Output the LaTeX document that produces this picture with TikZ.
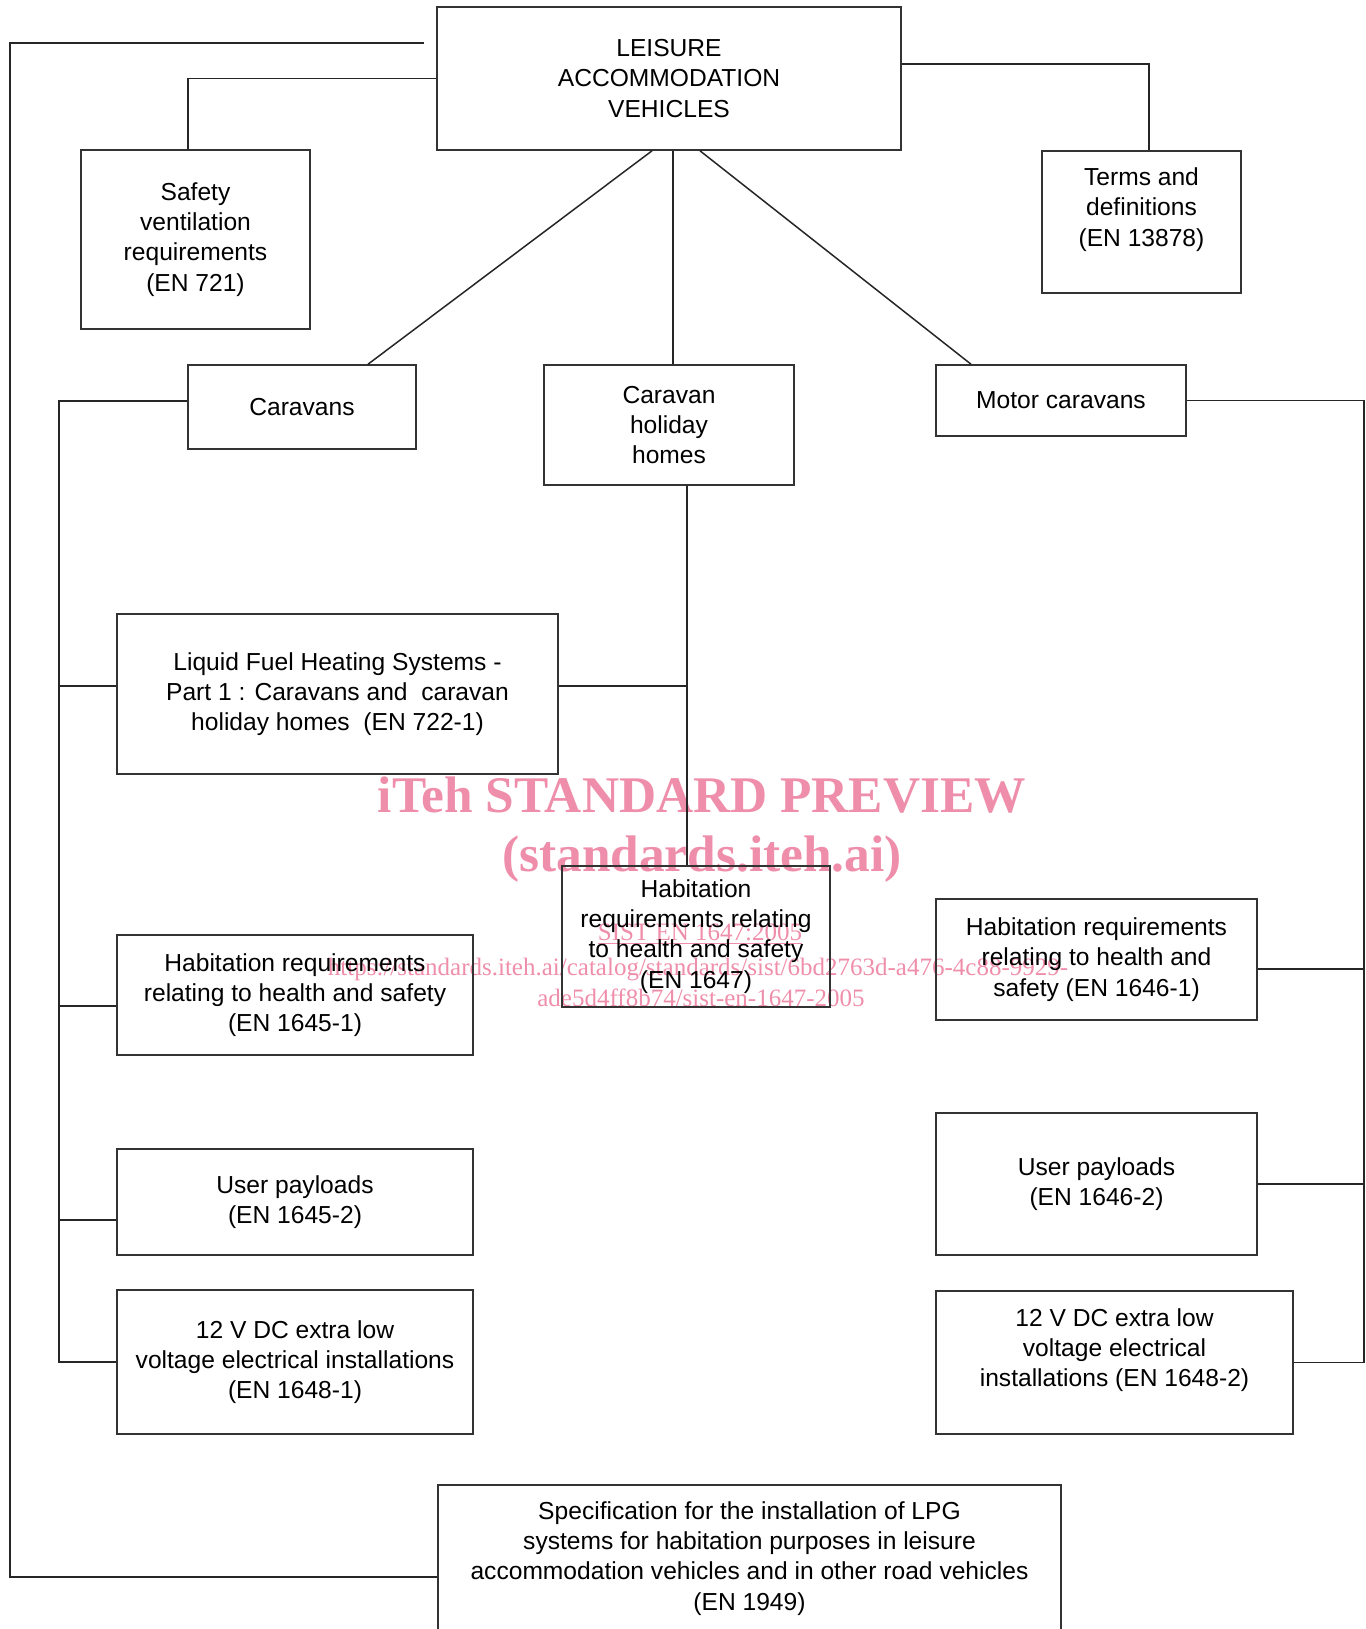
\documentclass[tikz,border=0pt]{standalone}
\usepackage{fontspec}
\setmainfont{Liberation Sans}
\newfontfamily\marca{Liberation Serif}
\usetikzlibrary{calc}
\definecolor{rosa}{RGB}{239,142,170}
\tikzset{
	caixa/.style={draw=black!80, line width=0.8pt, inner sep=0pt, align=center, font=\fontsize{12.3}{15.1}\selectfont},
	liga/.style={draw=black!85, line width=0.75pt},
	marcagua/.style={anchor=base, text=rosa, inner sep=0pt}
}
\begin{document}
\begin{tikzpicture}[x=0.5pt,y=-0.5pt] %Início do diagrama
					\useasboundingbox (0,0) rectangle (1366,1629); %Moldura
						%Marca d'água
					\node[marcagua, font=\marca\bfseries\fontsize{25.7}{30}\selectfont] (marca1) at (702,812) {iTeh STANDARD PREVIEW};
					\node[marcagua, font=\marca\bfseries\fontsize{25.7}{30}\selectfont] (marca2) at (702,871) {(standards.iteh.ai)};
					\node[marcagua, font=\marca\fontsize{12.5}{14}\selectfont] (marca3) at (700,940) {\underline{SIST EN 1647:2005}};
					\node[marcagua, font=\marca\fontsize{12.5}{14}\selectfont] (marca4) at (698,975) {https://standards.iteh.ai/catalog/standards/sist/6bd2763d-a476-4c88-9929-};
					\node[marcagua, font=\marca\fontsize{12.5}{14}\selectfont] (marca5) at (701,1006) {ade5d4ff8b74/sist-en-1647-2005};
						%Caixas
					\node[caixa, minimum width=232pt, minimum height=71.5pt] (lav) at (669,78.5) {LEISURE\\ACCOMMODATION\\VEHICLES}; %Caixa principal
					\node[caixa, minimum width=114.5pt, minimum height=89.5pt] (safety) at (195.5,239.5) {Safety\\ventilation\\requirements\\(EN 721)};
					\node[caixa, minimum width=99.5pt, minimum height=71pt] (terms) at (1141.5,222) {Terms and\\definitions\\(EN 13878)\\\mbox{}};
					\node[caixa, minimum width=114pt, minimum height=42pt] (caravans) at (302,407) {Caravans};
					\node[caixa, minimum width=125pt, minimum height=60pt] (chh) at (669,425) {Caravan\\holiday\\homes};
					\node[caixa, minimum width=125pt, minimum height=35.5pt] (motor) at (1061,400.5) {Motor caravans};
					\node[caixa, minimum width=220.5pt, minimum height=80pt] (fuel) at (337.5,694) {Liquid Fuel Heating Systems -\\Part 1 : Caravans and~~caravan\\holiday homes~~(EN 722-1)};
					\node[caixa, minimum width=134pt, minimum height=70.5pt] (hab1647) at (696,936.5) {Habitation\\requirements relating\\to health and safety\\(EN 1647)};
					\node[caixa, minimum width=178pt, minimum height=60pt] (hab16451) at (295,995) {Habitation requirements\\relating to health and safety\\(EN 1645-1)};
					\node[caixa, minimum width=178pt, minimum height=53pt] (pay16452) at (295,1202) {User payloads\\(EN 1645-2)};
					\node[caixa, minimum width=178pt, minimum height=72pt] (elec16481) at (295,1362) {12 V DC extra low\\voltage electrical installations\\(EN 1648-1)};
					\node[caixa, minimum width=160.5pt, minimum height=60.5pt] (hab16461) at (1096.5,959.5) {Habitation requirements\\relating to health and\\safety (EN 1646-1)};
					\node[caixa, minimum width=160.5pt, minimum height=71pt] (pay16462) at (1096.5,1184) {User payloads\\(EN 1646-2)};
					\node[caixa, minimum width=178.5pt, minimum height=71.5pt] (elec16482) at (1114.5,1362.5) {12 V DC extra low\\voltage electrical\\installations (EN 1648-2)\\\mbox{}};
					\node[caixa, minimum width=311.5pt, minimum height=73.5pt] (lpg) at (749.5,1558.5) {Specification for the installation of LPG\\systems for habitation purposes in leisure\\accommodation vehicles and in other road vehicles\\(EN 1949)};
						%Ligações
					\coordinate (pontaA) at (424,43); %Ponta solta
					\coordinate (cantoA) at (10,43);
					\draw[liga] (pontaA) -- (cantoA) |- ($(lpg.west)+(0,18.5)$); %Linha externa
					\draw[liga] (lav.west) -| ($(safety.north)+(-7.5,0)$);
					\draw[liga] ($(lav.east)+(0,-14.5)$) -| ($(terms.north)+(7.5,0)$);
					\draw[liga] ($(lav.south)+(-17,0)$) -- ($(caravans.north)+(66,0)$);
					\draw[liga] ($(lav.south)+(4,0)$) -- ($(chh.north)+(4,0)$);
					\draw[liga] ($(lav.south)+(31,0)$) -- ($(motor.north)+(-90,0)$);
					\draw[liga] ($(caravans.west)+(0,-6)$) -- ++(-128,0) |- (elec16481.west); %Barra esquerda
					\draw[liga] ($(fuel.west)+(0,-8)$) -- ++(-57,0);
					\draw[liga] ($(hab16451.west)+(0,11)$) -- ++(-57,0);
					\draw[liga] ($(pay16452.west)+(0,18)$) -- ++(-57,0);
					\draw[liga] ($(chh.south)+(18,0)$) -- ($(hab1647.north)+(-9,0)$); %Barra central
					\draw[liga] ($(fuel.east)+(0,-8)$) -- ++(129,0);
					\draw[liga] (motor.east) -- ++(177,0) |- (elec16482.east); %Barra direita
					\draw[liga] ($(hab16461.east)+(0,9.5)$) -- ++(106,0);
					\draw[liga] (pay16462.east) -- ++(106,0);
				\end{tikzpicture}
\end{document}
